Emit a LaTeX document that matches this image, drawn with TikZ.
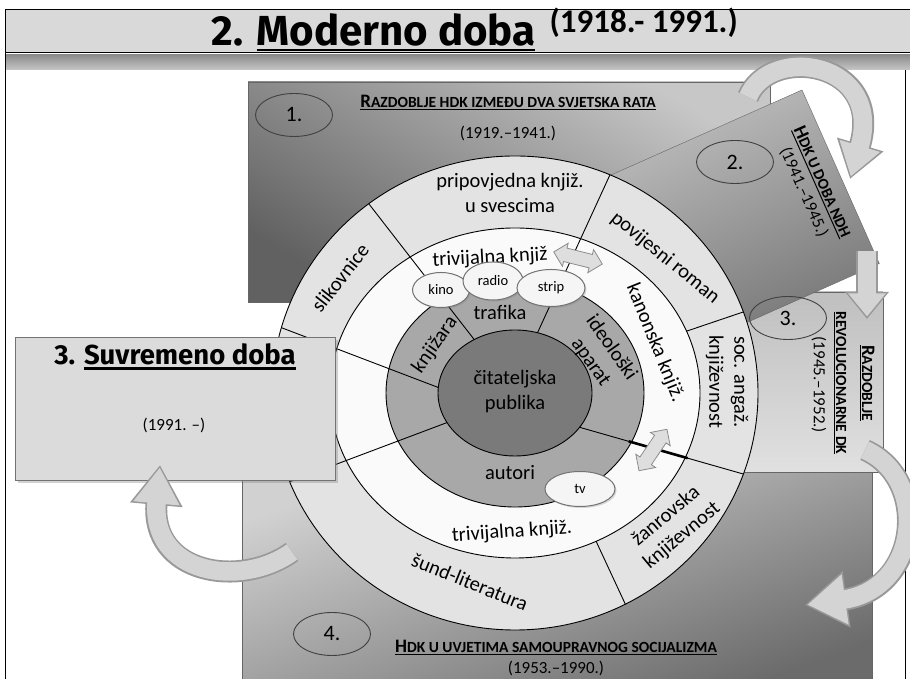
\documentclass[tikz,border=0pt]{standalone}
\usepackage{fontspec}
\setmainfont{Carlito}
\newfontfamily\titlefont{Fira Sans}
\usetikzlibrary{arrows.meta,shapes.arrows,shapes.geometric,shadows,calc}

\newcommand{\thickul}[1]{\leavevmode\vtop{\hbox{#1}\kern2pt\hrule height 2.5pt}}
\newcommand{\thinul}[1]{\leavevmode\vtop{\hbox{#1}\kern1.5pt\hrule height 1pt}}
\newcommand{\smc}[2]{{\fontsize{19}{22}\selectfont #1}{\fontsize{15.5}{18}\selectfont #2}}

\tikzset{
  ringtext/.style={font=\fontsize{20.5}{25}\selectfont, align=center, inner sep=0pt},
  media/.style={ellipse, draw=black!55, line width=1pt, fill=black!4, inner sep=0pt,
    font=\fontsize{14.5}{16}\selectfont,
    drop shadow={opacity=0.3, shadow xshift=1.5pt, shadow yshift=-1.5pt}},
  period/.style={ellipse, draw=black!75, line width=0.9pt, minimum width=77pt,
    minimum height=43pt, inner sep=0pt, font=\fontsize{22}{24}\selectfont},
  link/.style={double arrow, draw=black!45, fill=black!13, line width=0.8pt,
    minimum height=50pt, double arrow head extend=5pt, inner sep=0pt},
  boxtitle/.style={font=\bfseries, align=center, inner sep=0pt},
  boxdate/.style={font=\fontsize{17}{20}\selectfont, inner sep=0pt},
  bigout/.style={line width=22pt, draw=black!40},
  bigin/.style={line width=18.5pt, draw=black!17},
}

\begin{document}
\begin{tikzpicture}[x=1pt, y=1pt]
\useasboundingbox (0,0) rectangle (910,679);
\fill[white] (0,0) rectangle (910,679);

% title bar
\draw[fill=black!15, line width=1pt] (5,669) rectangle (912,626);
\shade[top color=black!45, middle color=black!4, bottom color=black!22] (5,624) rectangle (912,609);
\draw[line width=1pt] (5,626) -- (5,-2);
\draw[line width=1pt] (905,609) -- (905,-2);
\node[anchor=base west, font=\titlefont\bfseries\fontsize{42}{44}\selectfont] (naslov) at (208,633) {2. \thickul{Moderno doba}};
\node[anchor=base west, font=\bfseries\fontsize{33}{35}\selectfont] (naslovgod) at (546,646) {(1918.- 1991.)};

% period boxes
\shade[draw=black!60, top color=black!22, bottom color=black!62, shading angle=-30] (248,597) rectangle (770,377);
\shade[draw=black!60, left color=black!18, right color=black!58, shading angle=20] (242,207) rectangle (872,-11);
\shade[draw=black!60, top color=black!25, bottom color=black!12] (600,387) rectangle (883,207);
\begin{scope}[shift={(802,589)}, rotate=24]
  \shade[draw=black!60, top color=black!22, bottom color=black!58, shading angle=24] (-330,0) rectangle (0,-190);
\end{scope}

\node[boxtitle] (razd1) at (508,576) {\thinul{\smc{R}{AZDOBLJE HDK IZMEĐU DVA SVJETSKA RATA}}};
\node[boxdate] (god1) at (508,546) {(1919.–1941.)};
\node[boxtitle, rotate=-66] (razd2) at (822,497) {\thinul{\smc{H}{DK U DOBA NDH}}};
\node[boxdate, rotate=-66] (god2) at (804,487) {(1941.–1945.)};
\node[boxtitle, rotate=-90] (razd3a) at (867,296) {\thinul{\smc{R}{AZDOBLJE}}};
\node[boxtitle, rotate=-90] (razd3b) at (840,296) {\thinul{\smc{}{REVOLUCIONARNE DK}}};
\node[boxdate, rotate=-90] (god3) at (819,294) {(1945.–1952.)};
\node[boxtitle] (razd4) at (556,31) {\thinul{\smc{H}{DK U UVJETIMA SAMOUPRAVNOG SOCIJALIZMA}}};
\node[boxdate] (god4) at (556,11) {(1953.–1990.)};

% big arrows between periods
\coordinate (fromA) at (748,582);
\coordinate (toA) at (850,500);
\draw[bigout, -{Triangle[width=46pt,length=36pt]}] (fromA) .. controls (770,635) and (885,618) .. (toA);
\draw[bigin, shorten >=2.5pt, -{Triangle[width=40pt,length=32pt]}] (fromA) .. controls (770,635) and (885,618) .. (toA);
\coordinate (fromB) at (867,428);
\coordinate (toB) at (867,360);
\draw[bigout, -{Triangle[width=42pt,length=27pt]}] (fromB) -- (toB);
\draw[bigin, shorten >=2.5pt, -{Triangle[width=36pt,length=23pt]}] (fromB) -- (toB);
\coordinate (fromC) at (865,229);
\coordinate (toC) at (805,74);
\draw[bigout, -{Triangle[width=54pt,length=42pt]}] (fromC) .. controls (930,200) and (920,90) .. (toC);
\draw[bigin, shorten >=2.5pt, -{Triangle[width=48pt,length=38pt]}] (fromC) .. controls (930,200) and (920,90) .. (toC);

% rings
\coordinate (c) at (515,286);
\fill[black!11] (c) ellipse [x radius=243, y radius=237];
\fill[black!2] (c) ellipse [x radius=185, y radius=165];
\fill[black!34] (c) ellipse [x radius=129, y radius=114];
\fill[black!52] (c) ellipse [x radius=77, y radius=63];

\coordinate (a1) at ($(c)+(122:77 and 63)$);
\coordinate (a4) at ($(c)+(127:243 and 237)$);
\coordinate (b1) at ($(c)+(73:77 and 63)$);
\coordinate (b4) at ($(c)+(67:243 and 237)$);
\coordinate (c3) at ($(c)+(22:185 and 165)$);
\coordinate (c4) at ($(c)+(20:243 and 237)$);
\coordinate (d1) at ($(c)+(-33:77 and 63)$);
\coordinate (d4) at ($(c)+(-20:243 and 237)$);
\coordinate (e3) at ($(c)+(-64:185 and 165)$);
\coordinate (e4) at ($(c)+(-63:243 and 237)$);
\coordinate (f1) at ($(c)+(175:77 and 63)$);
\coordinate (f4) at ($(c)+(164:243 and 237)$);
\coordinate (g1) at ($(c)+(208:77 and 63)$);
\coordinate (g4) at ($(c)+(202:243 and 237)$);

\draw[line width=0.9pt] (a1) -- (a4) (b1) -- (b4) (c3) -- (c4) (d1) -- (d4)
  (e3) -- (e4) (f1) -- (f4) (g1) -- (g4);
\draw[line width=2.6pt] ($(d1)!0.3!(d4)$) -- ($(d1)!0.66!(d4)$);
\draw[line width=0.9pt] (c) ellipse [x radius=243, y radius=237]
  (c) ellipse [x radius=185, y radius=165]
  (c) ellipse [x radius=129, y radius=114]
  (c) ellipse [x radius=77, y radius=63];

% ring labels
\node[ringtext] (pripov) at (510,486) {pripovjedna knjiž.\\u svescima};
\node[ringtext, rotate=52] (slik) at (340,401) {slikovnice};
\node[ringtext, rotate=-39] (povij) at (665,421) {povijesni roman};
\node[ringtext, rotate=-90] (socang) at (727,297) {soc. angaž.\\književnost};
\node[ringtext, rotate=40] (zanr) at (674,153) {žanrovska\\književnost};
\node[ringtext, rotate=-22] (sund) at (470,97) {šund-literatura};
\node[ringtext, rotate=3] (trivgore) at (490,421) {trivijalna knjiž};
\node[ringtext, rotate=-68] (kanon) at (655,336) {kanonska knjiž.};
\node[ringtext, rotate=4] (trivdolje) at (512,147) {trivijalna knjiž.};
\node[ringtext] (trafika) at (500,367) {trafika};
\node[ringtext, rotate=55] (knjizara) at (435,334) {knjižara};
\node[ringtext, rotate=-55] (ideol) at (601,324) {ideološki\\aparat};
\node[ringtext] (publika) at (515,287) {čitateljska\\publika};
\node[ringtext] (autori) at (510,206) {autori};

% media
\node[media, minimum width=57pt, minimum height=35pt] (kino) at (441,389) {kino};
\node[media, minimum width=60pt, minimum height=38pt] (radio) at (493,398) {radio};
\node[media, minimum width=68pt, minimum height=37pt] (strip) at (551,391) {strip};
\node[media, minimum width=70pt, minimum height=35pt] (tv) at (580,190) {tv};
\node[link, rotate=-14] (veza1) at (578,421) {\rule{0pt}{13pt}};
\node[link, rotate=56] (veza2) at (653,229) {\rule{0pt}{13pt}};

% present day
\draw[draw=black!55, fill=black!14, drop shadow={opacity=0.35, shadow xshift=3pt, shadow yshift=-3pt}] (15,342) rectangle (335,199);
\node[anchor=base, font=\titlefont\bfseries\fontsize{27.5}{29}\selectfont] (suvnaslov) at (175,314) {3. \thickul{Suvremeno doba}};
\node[boxdate] (suvgod) at (174,254) {(1991. –)};
\coordinate (fromD) at (292,127);
\coordinate (toD) at (160,214);
\draw[bigout, -{Triangle[width=50pt,length=40pt]}] (fromD) .. controls (240,90) and (150,105) .. (toD);
\draw[bigin, shorten >=2.5pt, -{Triangle[width=44pt,length=36pt]}] (fromD) .. controls (240,90) and (150,105) .. (toD);

% period numbers
\node[period] (per1) at (294,564) {1.};
\node[period] (per2) at (735,517) {2.};
\node[period] (per3) at (788,361) {3.};
\node[period] (per4) at (332,45) {4.};
\end{tikzpicture}
\end{document}
